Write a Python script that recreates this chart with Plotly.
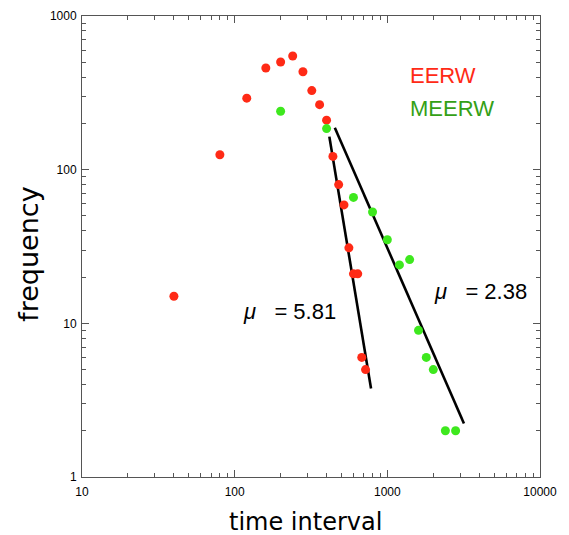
import plotly.graph_objects as go

# --- data ---
eerw_x = [40, 80, 120, 160, 200, 240, 280, 320, 360, 400, 440, 480, 520, 560, 600, 640, 680, 720]
eerw_y = [15, 125, 292, 459, 502, 549, 434, 327, 265, 210, 122, 80, 59, 31, 21, 21, 6, 5]

meerw_x = [200, 400, 600, 800, 1000, 1200, 1400, 1600, 1800, 2000, 2400, 2800]
meerw_y = [240, 185, 66, 53, 35, 24, 26, 9, 6, 5, 2, 2]

fit_eerw_x = [417, 782]
fit_eerw_y = [164, 3.77]
fit_meerw_x = [453, 3177]
fit_meerw_y = [187.5, 2.23]

x_tick_vals = [10, 100, 1000, 10000]
x_tick_text = ["10", "100", "1000", "10000"]
y_tick_vals = [1, 10, 100, 1000]
y_tick_text = ["1", "10", "100", "1000"]

series_names = ["EERW", "MEERW"]
mu_labels = ["5.81", "2.38"]

RED = "rgb(255,42,22)"
GREEN_PT = "rgb(62,232,30)"
GREEN_TXT = "rgb(52,160,22)"
AXIS = "#555555"

fig = go.Figure()
fig.add_trace(go.Scatter(x=fit_eerw_x, y=fit_eerw_y, mode="lines",
                         line=dict(color="black", width=2.6), showlegend=False, hoverinfo="skip"))
fig.add_trace(go.Scatter(x=fit_meerw_x, y=fit_meerw_y, mode="lines",
                         line=dict(color="black", width=2.6), showlegend=False, hoverinfo="skip"))
fig.add_trace(go.Scatter(x=eerw_x, y=eerw_y, mode="markers", name=series_names[0],
                         marker=dict(color=RED, size=9, line=dict(width=0)), showlegend=False))
fig.add_trace(go.Scatter(x=meerw_x, y=meerw_y, mode="markers", name=series_names[1],
                         marker=dict(color=GREEN_PT, size=9, line=dict(width=0)), showlegend=False))

axis_common = dict(
    type="log", showgrid=False, zeroline=False, automargin=False,
    showline=True, linecolor=AXIS, linewidth=1, mirror="ticks",
    ticks="inside", ticklen=7, tickcolor=AXIS, tickwidth=1,
    tickfont=dict(family="Liberation Sans, Arial", size=12, color="black"),
    minor=dict(ticks="inside", ticklen=4, tickcolor=AXIS, tickwidth=1, dtick="D1", showgrid=False),
)
fig.update_xaxes(range=[1, 4], tickvals=x_tick_vals, ticktext=x_tick_text,
                 ticklabelstandoff=4, **axis_common)
fig.update_yaxes(range=[0, 3], tickvals=y_tick_vals, ticktext=y_tick_text,
                 ticklabelstandoff=2, **axis_common)

ann_font = "Liberation Sans, Arial"
annotations = [
    dict(text="time interval", x=0.489, y=-0.098, xref="paper", yref="paper",
         xanchor="center", yanchor="middle", showarrow=False,
         font=dict(family="DejaVu Sans", size=24, color="black")),
    dict(text="frequency", x=-0.117, y=0.483, xref="paper", yref="paper",
         xanchor="center", yanchor="middle", textangle=-90, showarrow=False,
         font=dict(family="DejaVu Sans", size=27, color="black")),
    dict(text=series_names[0], x=0.712, y=0.871, xref="paper", yref="paper",
         xanchor="left", yanchor="middle", showarrow=False,
         font=dict(family=ann_font, size=22, color=RED)),
    dict(text=series_names[1], x=0.712, y=0.799, xref="paper", yref="paper",
         xanchor="left", yanchor="middle", showarrow=False,
         font=dict(family=ann_font, size=22, color=GREEN_TXT)),
    dict(text="<i>μ</i>&nbsp;&nbsp; = " + mu_labels[0], x=0.452, y=0.360, xref="paper", yref="paper",
         xanchor="center", yanchor="middle", showarrow=False,
         font=dict(family=ann_font, size=22, color="black")),
    dict(text="<i>μ</i>&nbsp;&nbsp; = " + mu_labels[1], x=0.871, y=0.403, xref="paper", yref="paper",
         xanchor="center", yanchor="middle", showarrow=False,
         font=dict(family=ann_font, size=22, color="black")),
]

# page body has an 8px default margin, so the figure is sized/offset to compensate
fig.update_layout(
    width=561, height=527,
    margin=dict(l=74, r=29, t=8, b=58, autoexpand=False),
    paper_bgcolor="white", plot_bgcolor="white",
    showlegend=False,
    annotations=annotations,
)

fig.write_html("out.html")
